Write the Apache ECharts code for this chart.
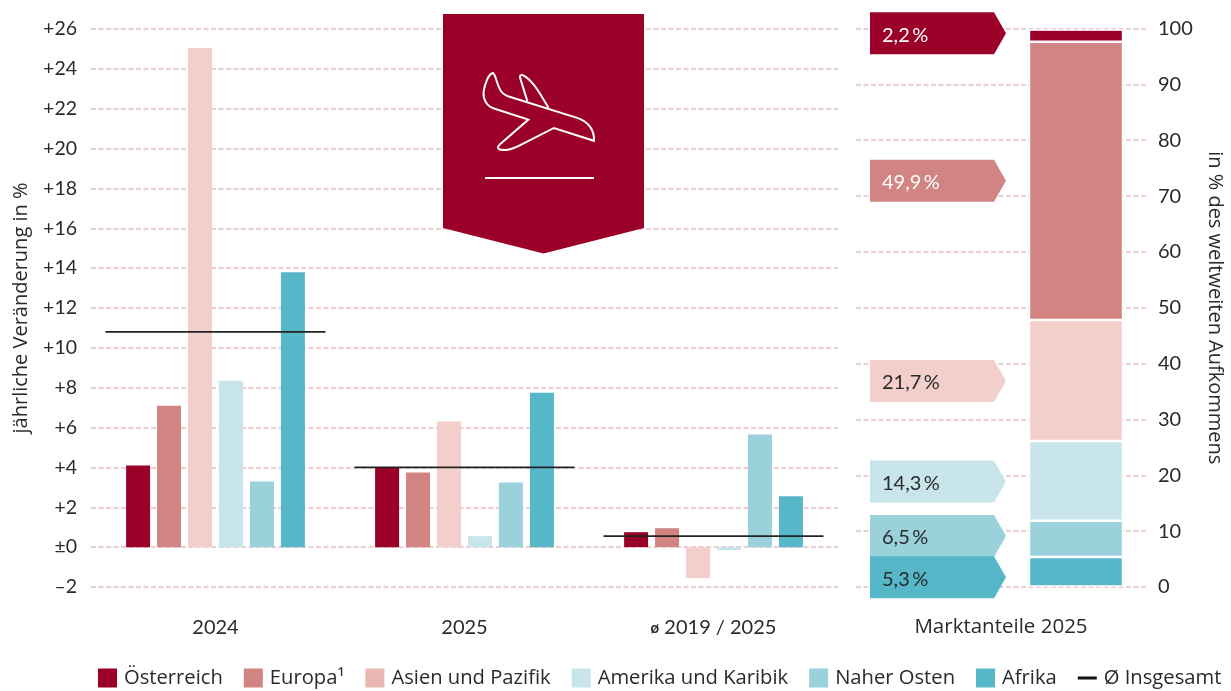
<!DOCTYPE html>
<html><head><meta charset="utf-8">
<style>html,body{margin:0;padding:0;background:#fff}#c{width:1231px;height:691px}</style>
<script src="https://cdn.jsdelivr.net/npm/echarts@6/dist/echarts.min.js"></script>
</head><body><div id="c"></div>
<script>
const periods = ['2024', '2025', 'ø 2019 / 2025'];
const regions = ['Österreich', 'Europa¹', 'Asien und Pazifik', 'Amerika und Karibik', 'Naher Osten', 'Afrika'];
const oesterreich = [4.1, 4.0, 0.75];
const europa = [7.1, 3.75, 0.95];
const asien = [25.05, 6.3, -1.55];
const amerika = [8.35, 0.55, -0.15];
const naherOsten = [3.3, 3.25, 5.65];
const afrika = [13.8, 7.75, 2.55];
const insgesamt = [10.8, 4.0, 0.55];
const shares = [2.2, 49.9, 21.7, 14.3, 6.5, 5.3];
const shareLabels = ['2,2\u2009%', '49,9\u2009%', '21,7\u2009%', '14,3\u2009%', '6,5\u2009%', '5,3\u2009%'];
const shareLabelAnchors = [99.15, 72.76, 36.9, 18.9, 9.14, 1.74];

const FONT = 'Open Sans';
const NUM = 'Lato';
const INK = '#2a2a2a';
const colors = ['#9b0029', '#d18482', '#f3cfcb', '#c9e5ec', '#9ad1db', '#56b7c8'];
const legendColors = ['#9b0029', '#d18482', '#e9b6b1', '#c9e5ec', '#9ad1db', '#56b7c8'];
const textColors = ['#ffffff', '#ffffff', INK, INK, INK, INK];
const gridLine = { show: true, lineStyle: { color: '#e0c0c5', width: 1.5, type: [5, 2.5] } };
const regionValues = [oesterreich, europa, asien, amerika, naherOsten, afrika];
const planePath = 'M190 219C198 225 200 245 208 262C213 275 220 282 232 287L440 352C470 362 492 385 490 420L371 382L265 436C250 444 225 450 210 446C203 443 203 438 210 431L295 357L195 325C170 318 160 295 162 275C165 255 175 222 190 219ZM292 302L271 235C268 224 275 222 285 229C310 245 330 280 355 322';

const series = [];
regions.forEach((name, i) => series.push({
  name, type: 'bar', xAxisIndex: 0, yAxisIndex: 0, barWidth: 24, barGap: '29%',
  itemStyle: { color: colors[i] }, data: regionValues[i]
}));
series.push({
  name: 'Ø Insgesamt', type: 'custom', xAxisIndex: 0, yAxisIndex: 0, z: 5,
  itemStyle: { color: '#222' },
  encode: { x: 0, y: 1 },
  data: insgesamt.map((v, i) => [i, v]),
  renderItem(params, api) {
    const p = api.coord([api.value(0), api.value(1)]);
    return { type: 'line', shape: { x1: p[0] - 110, y1: p[1], x2: p[0] + 110, y2: p[1] },
      style: { stroke: '#222', lineWidth: 1.8 } };
  }
});
// stacked share column, bottom to top
for (let i = regions.length - 1; i >= 0; i--) {
  series.push({
    name: regions[i], type: 'bar', stack: 'share', xAxisIndex: 2, yAxisIndex: 2, barWidth: 94,
    itemStyle: { color: colors[i], borderColor: '#fff', borderWidth: 1.2 },
    data: [shares[i]]
  });
}
// arrow labels pointing at the column
series.push({
  type: 'custom', xAxisIndex: 1, yAxisIndex: 1, z: 4,
  encode: { x: 0, y: 1 },
  data: shares.map((s, i) => [0, shareLabelAnchors[i], i]),
  renderItem(params, api) {
    const i = api.value(2);
    const y = api.coord([0, api.value(1)])[1];
    return { type: 'group', children: [
      { type: 'polygon', shape: { points: [[870, y - 21], [994, y - 21], [1006, y], [994, y + 21], [870, y + 21]] },
        style: { fill: colors[i] } },
      { type: 'text', style: { x: 882, y: y + 2, text: shareLabels[i], fill: textColors[i],
        font: '20px ' + NUM, verticalAlign: 'middle', align: 'left' } }
    ] };
  }
});
// decorative plane icon on the pennant
series.push({
  type: 'custom', xAxisIndex: 1, yAxisIndex: 1, z: 110, silent: true,
  data: [[0, 50]],
  renderItem() {
    return { type: 'path', shape: { pathData: planePath, x: 483.5, y: 73, width: 110.5, height: 77, layout: 'cover' },
      style: { fill: 'none', stroke: '#fff', lineWidth: 2 } };
  }
});

const legendData = regions.map((name, i) => ({ name, icon: 'rect', itemStyle: { color: legendColors[i] } }));
legendData.push({ name: 'Ø Insgesamt', icon: 'path://M0 0L0 0M0 8H19V11H0ZM19 19L19 19', itemStyle: { color: '#111' } });

const option = {
  animation: false,
  backgroundColor: '#fff',
  textStyle: { fontFamily: FONT },
  grid: [
    { left: 91, top: 29, width: 747, height: 558 },
    { left: 856, top: 28.5, width: 292, height: 558.5 },
    { left: 1029, top: 29, width: 94, height: 557.5 }
  ],
  xAxis: [
    { type: 'category', gridIndex: 0, data: periods, axisLine: { show: false }, axisTick: { show: false },
      axisLabel: { color: INK, fontSize: 20, margin: 31, fontFamily: NUM,
        formatter: v => v.replace('ø', '{s|ø}'),
        rich: { s: { fontSize: 15, fontFamily: NUM, color: INK, fontWeight: 'bold' } } } },
    { type: 'value', gridIndex: 1, min: 0, max: 1, show: false },
    { type: 'category', gridIndex: 2, data: ['Marktanteile 2025'], axisLine: { show: false }, axisTick: { show: false }, axisLabel: { show: false } }
  ],
  yAxis: [
    { type: 'value', gridIndex: 0, min: -2, max: 26, interval: 2,
      name: 'jährliche Veränderung in %', nameLocation: 'middle', nameGap: 60, nameRotate: 90,
      nameTextStyle: { color: INK, fontSize: 20, fontFamily: FONT },
      axisLine: { show: false }, axisTick: { show: false }, splitLine: gridLine,
      axisLabel: { color: INK, fontSize: 19.5, margin: 14, fontFamily: NUM,
        formatter: v => v === 0 ? '±0' : (v > 0 ? '+' + v : '–' + Math.abs(v)) } },
    { type: 'value', gridIndex: 1, position: 'right', min: 0, max: 100, interval: 10,
      name: 'in % des weltweiten Aufkommens', nameLocation: 'middle', nameGap: 57, nameRotate: -90,
      nameTextStyle: { color: INK, fontSize: 20, fontFamily: FONT },
      axisLine: { show: false }, axisTick: { show: false }, splitLine: gridLine,
      axisLabel: { color: INK, fontSize: 20, margin: 10, fontFamily: NUM, align: 'left' } },
    { type: 'value', gridIndex: 2, min: 0, max: 100, show: false, splitLine: { show: false } }
  ],
  legend: {
    left: 93, top: 663, width: 1136, itemWidth: 19, itemHeight: 19, itemGap: 21, selectedMode: false,
    textStyle: { color: INK, fontSize: 20.2, fontFamily: FONT, padding: [0, 0, 0, 2] },
    data: legendData
  },
  graphic: [
    { type: 'polygon', z: 100, shape: { points: [[443, 14], [644, 14], [644, 228], [543.5, 253.5], [443, 228]] }, style: { fill: '#9b0029' } },
    { type: 'rect', z: 101, shape: { x: 485, y: 177, width: 109, height: 2 }, style: { fill: '#fff' } },
    { type: 'text', z: 101, style: { x: 1001, y: 627, text: 'Marktanteile 2025', fill: INK, font: '20.5px ' + FONT, align: 'center', verticalAlign: 'middle' } }
  ],
  series
};
echarts.init(document.getElementById('c')).setOption(option);
</script></body></html>
